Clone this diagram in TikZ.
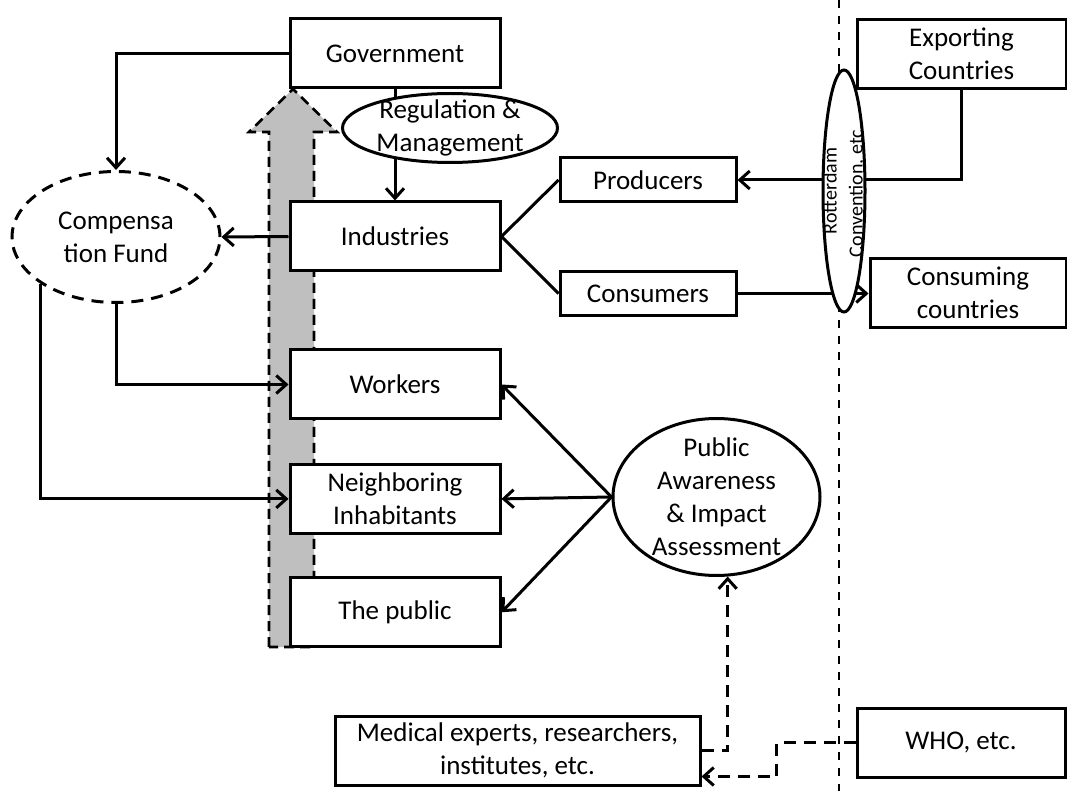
\documentclass[tikz,border=0pt]{standalone}
\usepackage{fontspec}
\setmainfont{Carlito}
\usepackage{tikz}
\usetikzlibrary{positioning,arrows.meta,shapes.geometric,calc}
\definecolor{shade}{HTML}{BFBFBF}

\begin{document}
\begin{tikzpicture}[x=0.5pt,y=-0.5pt,font=\fontsize{13.5}{16.5}\selectfont,box/.style={draw,line width=1.5pt,fill=white,minimum width=105pt,minimum height=34.5pt,align=center,inner sep=1pt},small/.style={box,minimum width=88pt,minimum height=22pt},oval/.style={draw,ellipse,line width=1.5pt,fill=white,inner sep=0pt},arr/.style={-{Straight Barb[length=5pt,width=9pt]},line width=1.5pt},darr/.style={arr,dash pattern=on 6pt off 4pt},node distance=21pt]
\useasboundingbox (0,0) rectangle (1067,791);
% shaded upward arrow behind the column of boxes
\draw[fill=shade,line width=1.3pt,dash pattern=on 5pt off 3pt] (269,647) -- (269,132) -- (249,132) -- (293,89) -- (337,132) -- (314,132) -- (314,647) -- cycle;
% border line
\draw[line width=1.1pt,dash pattern=on 4pt off 4pt] (839,0) -- (839,791);
\node[box] (gov) at (395,53.5) {Government};
\node[box,below=55.5pt of gov] (ind) {Industries};
\node[box,below=38pt of ind] (work) {Workers};
\node[box,below=21.2pt of work] (neigh) {Neighboring\\Inhabitants};
\node[box,below=20.7pt of neigh] (pub) {The public};
\node[small] (prod) at (648,180) {Producers};
\node[small] (cons) at (648,293.5) {Consumers};
\node[box,minimum width=104.5pt] (exp) at (961.5,54) {Exporting\\Countries};
\node[box,minimum width=98pt] (cng) at (968,293) {Consuming\\countries};
\node[box,minimum width=104pt] (who) at (961,742.5) {WHO, etc.};
\node[box,minimum width=182.5pt] (med) at (517.5,750.5) {Medical experts, researchers,\\institutes, etc.};
\node[oval,dash pattern=on 6pt off 4pt,minimum width=104pt,minimum height=65.5pt] (comp) at (116,237) {};
\node[align=center] at (comp) {Compensa\\tion Fund};
\node[oval,minimum width=103.5pt,minimum height=78.5pt] (paw) at (716.5,497) {};
\node[align=center] at (paw) {Public\\Awareness\\\& Impact\\Assessment};
% connectors
\draw[arr] (gov.west) -| (comp.north);
\draw[arr] (gov.south) -- (ind.north);
\draw[arr] (ind.west) -- (comp.east);
\draw[arr] (comp.south) |- (work.west);
\draw[arr] (comp.212) |- (neigh.west);
\draw[line width=1.5pt] (ind.east) -- (prod.west);
\draw[line width=1.5pt] (ind.east) -- (cons.west);
\draw[arr] (exp.south) |- (prod.east);
\draw[arr] (cons.east) -- (cons.east -| cng.west);
\draw[arr] (paw.west) -- (work.east);
\draw[arr] (paw.west) -- (neigh.east);
\draw[arr] (paw.west) -- (pub.east);
\draw[darr] (med.east) -| (paw.-82);
\draw[darr] (who.west) -- ++(-79,0) |- ($(med.south east)+(0,-10)$);
% ovals drawn over the lines
\node[oval,minimum width=107.5pt,minimum height=34.5pt] (reg) at (450,128) {};
\node[align=center] at (reg) {Regulation \&\\Management};
\node[oval,minimum width=21pt,minimum height=121pt] (rott) at (844,191) {};
\node[rotate=90,align=center,font=\fontsize{10}{13}\selectfont] at (rott) {Rotterdam\\Convention, etc.};
\end{tikzpicture}
\end{document}
